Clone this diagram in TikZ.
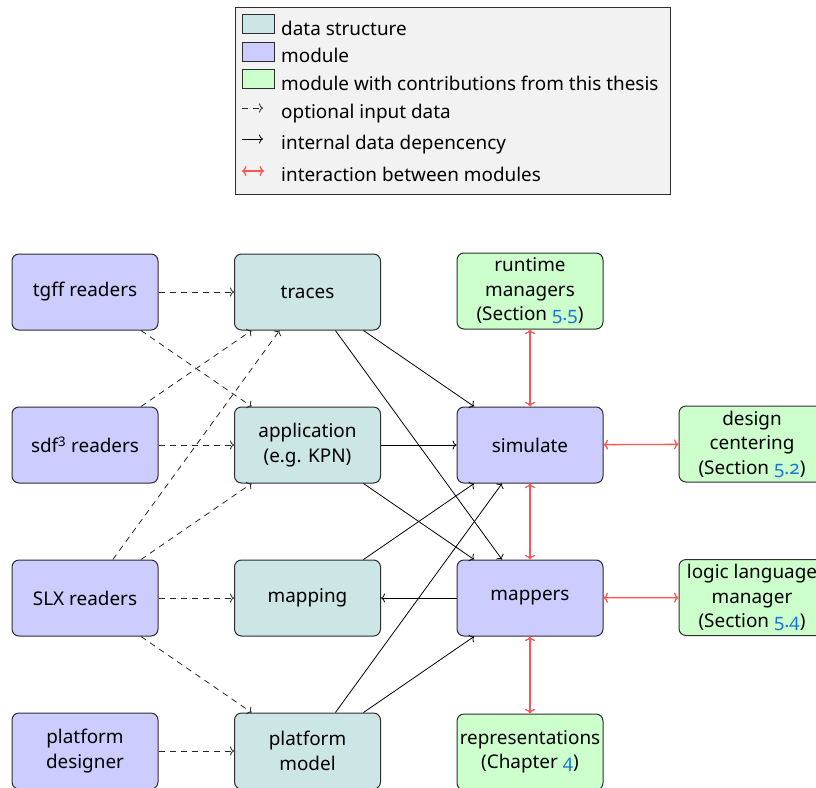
\documentclass[tikz,border=0pt]{standalone}
\usepackage{fontspec}
\setmainfont{Noto Sans}
\newfontfamily\refnumfont[Numbers=OldStyle]{Noto Sans}
\usetikzlibrary{arrows.meta}

\definecolor{datafill}{RGB}{204,229,229}
\definecolor{modfill}{RGB}{204,204,255}
\definecolor{contribfill}{RGB}{204,255,204}
\definecolor{linkred}{RGB}{255,85,85}
\definecolor{refblue}{RGB}{25,118,210}
\definecolor{legendfill}{RGB}{242,242,242}
\definecolor{edgegray}{RGB}{45,45,45}

\newcommand{\secref}[1]{{\color{refblue}\refnumfont #1}}

\begin{document}
\begin{tikzpicture}[x=1pt, y=-1pt,
  font=\fontsize{18.9}{24.5}\selectfont,
  box/.style={draw=edgegray, line width=1pt, rounded corners=7pt,
    minimum width=146pt, minimum height=76pt, align=center, inner sep=2pt},
  datanode/.style={box, fill=datafill},
  modnode/.style={box, fill=modfill},
  contribnode/.style={box, fill=contribfill},
  optarrow/.style={-{To[length=4pt, width=9pt]}, dash pattern=on 6pt off 5pt, line width=0.8pt, draw=black!85},
  deparrow/.style={-{To[length=4pt, width=9pt]}, line width=0.8pt},
  interarrow/.style={{To[length=4.5pt, width=10pt]}-{To[length=4.5pt, width=10pt]}, draw=linkred, line width=1.3pt},
  swatch/.style={draw=edgegray, line width=1pt, minimum width=32pt, minimum height=19pt,
    inner sep=0pt, anchor=north west},
  legendtext/.style={anchor=base west, inner sep=0pt},
]
\useasboundingbox (0,0) rectangle (816,787);

% ---- legend ----
\node[draw=edgegray, fill=legendfill, line width=1pt, minimum width=435pt, minimum height=187pt,
      anchor=north west, inner sep=0pt] (legend) at (235,7) {};
\node[swatch, fill=datafill] (swdata) at (242,14) {};
\node[legendtext] (lgdata) at (281,35) {data structure};
\node[swatch, fill=modfill] (swmod) at (242,42) {};
\node[legendtext] (lgmod) at (281,62) {module};
\node[swatch, fill=contribfill] (swcontrib) at (242,69) {};
\node[legendtext] (lgcontrib) at (281,90) {module with contributions from this thesis};
\coordinate (optA) at (242,108);
\coordinate (optB) at (263,108);
\draw[optarrow] (optA) -- (optB);
\node[legendtext] (lgopt) at (281,118) {optional input data};
\coordinate (depA) at (242,139);
\coordinate (depB) at (263,139);
\draw[deparrow] (depA) -- (depB);
\node[legendtext] (lgdep) at (281,149) {internal data depencency};
\coordinate (intA) at (242,171);
\coordinate (intB) at (264,171);
\draw[interarrow] (intA) -- (intB);
\node[legendtext] (lgint) at (281,181) {interaction between modules};

% ---- nodes ----
\node[modnode] (tgff) at (85,292) {tgff readers};
\node[datanode] (traces) at (307.5,292) {traces};
\node[contribnode] (rtm) at (530,291) {runtime\\managers\\(Section \secref{5.5})};

\node[modnode] (sdf) at (85,445) {sdf\textsuperscript{3} readers};
\node[datanode] (app) at (307.5,445) {application\\(e.g. KPN)};
\node[modnode] (sim) at (530,445) {simulate};
\node[contribnode] (dc) at (752,444) {design\\centering\\(Section \secref{5.2})};

\node[modnode] (slx) at (85,598) {SLX readers};
\node[datanode] (mapping) at (307.5,598) {mapping};
\node[modnode] (mappers) at (530,598) {mappers};
\node[contribnode] (llm) at (752,597.5) {logic language\\manager\\(Section \secref{5.4})};

\node[modnode] (pd) at (85,751) {platform\\designer};
\node[datanode] (pm) at (307.5,751) {platform\\model};
\node[contribnode] (repr) at (530,752) {representations\\(Chapter \secref{4})};

% ---- optional inputs ----
\draw[optarrow] (tgff) -- (traces);
\draw[optarrow] (tgff) -- (app);
\draw[optarrow] (sdf) -- (traces);
\draw[optarrow] (sdf) -- (app);
\draw[optarrow] (slx) -- (traces);
\draw[optarrow] (slx) -- (app);
\draw[optarrow] (slx) -- (mapping);
\draw[optarrow] (slx) -- (pm);
\draw[optarrow] (pd) -- (pm);

% ---- internal dependencies ----
\draw[deparrow] (traces) -- (sim);
\draw[deparrow] (traces) -- (mappers);
\draw[deparrow] (app) -- (sim);
\draw[deparrow] (app) -- (mappers);
\draw[deparrow] (mapping) -- (sim);
\draw[deparrow] (mappers) -- (mapping);
\draw[deparrow] (pm) -- (sim);
\draw[deparrow] (pm) -- (mappers);

% ---- module interactions ----
\draw[interarrow] (rtm) -- (sim);
\draw[interarrow] (sim) -- (dc);
\draw[interarrow] (sim) -- (mappers);
\draw[interarrow] (mappers) -- (llm);
\draw[interarrow] (mappers) -- (repr);
\end{tikzpicture}
\end{document}
